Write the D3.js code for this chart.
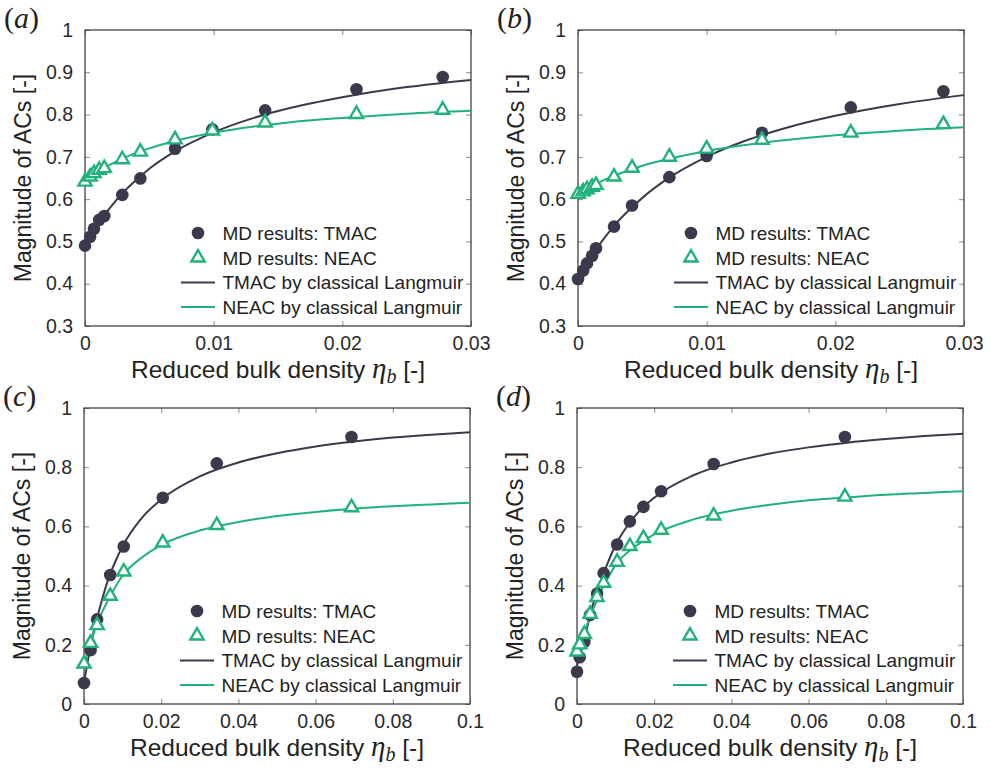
<!DOCTYPE html>
<html>
<head>
<meta charset="utf-8">
<script src="https://cdn.jsdelivr.net/npm/d3@7"></script>
<style>
  body { margin: 0; background: #fff; }
  svg { display: block; }
  .tick text { font-family: "Liberation Sans", Arial, sans-serif; font-size: 19.5px; fill: #2a2a2a; }
</style>
</head>
<body>
<div id="chart"></div>
<script>
// MD results and classical Langmuir fits, one set per panel

// (a)
var xA    = [0, 0.0004, 0.0007, 0.0011, 0.0015, 0.0029, 0.0043, 0.007, 0.0099, 0.014, 0.0211, 0.0278];
var tmacA = [0.49, 0.511, 0.530, 0.551, 0.560, 0.610, 0.649, 0.719, 0.765, 0.810, 0.860, 0.889];
var neacA = [0.641, 0.653, 0.661, 0.669, 0.673, 0.694, 0.712, 0.741, 0.762, 0.781, 0.801, 0.811];
var fitXA    = [0, 0.001, 0.002, 0.003, 0.004, 0.005, 0.007, 0.01, 0.013, 0.016, 0.02, 0.025, 0.03];
var fitTmacA = [0.49, 0.541, 0.582, 0.617, 0.646, 0.672, 0.713, 0.758, 0.791, 0.816, 0.841, 0.865, 0.882];
var fitNeacA = [0.642, 0.664, 0.682, 0.697, 0.710, 0.720, 0.738, 0.757, 0.771, 0.782, 0.792, 0.802, 0.809];

// (b)
var xB    = [0, 0.0004, 0.0007, 0.0011, 0.0014, 0.0028, 0.0042, 0.0071, 0.01, 0.0143, 0.0212, 0.0284];
var tmacB = [0.411, 0.431, 0.448, 0.466, 0.484, 0.535, 0.585, 0.652, 0.702, 0.757, 0.817, 0.855];
var neacB = [0.612, 0.618, 0.623, 0.629, 0.633, 0.653, 0.674, 0.700, 0.719, 0.740, 0.757, 0.777];
var fitXB    = fitXA;
var fitTmacB = [0.41, 0.463, 0.506, 0.544, 0.575, 0.603, 0.649, 0.70, 0.738, 0.767, 0.797, 0.825, 0.846];
var fitNeacB = [0.612, 0.630, 0.645, 0.658, 0.669, 0.679, 0.695, 0.714, 0.728, 0.739, 0.751, 0.762, 0.770];

// (c)
var xC    = [0, 0.0017, 0.0034, 0.0068, 0.0103, 0.0204, 0.0344, 0.0693];
var tmacC = [0.071, 0.182, 0.286, 0.436, 0.532, 0.697, 0.813, 0.902];
var neacC = [0.136, 0.206, 0.266, 0.365, 0.447, 0.545, 0.604, 0.664];
var fitXC    = [0, 0.002, 0.004, 0.006, 0.008, 0.01, 0.015, 0.02, 0.03, 0.04, 0.05, 0.06, 0.07, 0.08, 0.09, 0.1];
var fitTmacC = [0.07, 0.215, 0.32, 0.41, 0.478, 0.533, 0.629, 0.691, 0.769, 0.816, 0.847, 0.870, 0.887, 0.900, 0.910, 0.918];
var fitNeacC = [0.135, 0.22, 0.29, 0.345, 0.393, 0.434, 0.495, 0.537, 0.586, 0.615, 0.635, 0.649, 0.660, 0.668, 0.674, 0.680];

// (d)
var xD    = [0, 0.0007, 0.0019, 0.0034, 0.0052, 0.0069, 0.0104, 0.0137, 0.0172, 0.0218, 0.0354, 0.0694];
var tmacD = [0.109, 0.158, 0.210, 0.301, 0.373, 0.442, 0.539, 0.617, 0.666, 0.719, 0.811, 0.902];
var neacD = [0.177, 0.201, 0.236, 0.304, 0.361, 0.409, 0.480, 0.533, 0.560, 0.588, 0.636, 0.700];
var fitXD    = fitXC;
var fitTmacD = [0.13, 0.225, 0.33, 0.41, 0.478, 0.537, 0.635, 0.697, 0.772, 0.816, 0.846, 0.867, 0.883, 0.895, 0.905, 0.913];
var fitNeacD = [0.17, 0.245, 0.315, 0.375, 0.425, 0.47, 0.531, 0.573, 0.623, 0.653, 0.673, 0.688, 0.698, 0.707, 0.713, 0.719];

// axis ticks
var xTicksTop = [0, 0.01, 0.02, 0.03];
var yTicksTop = [0.3, 0.4, 0.5, 0.6, 0.7, 0.8, 0.9, 1];
var xTicksBottom = [0, 0.02, 0.04, 0.06, 0.08, 0.1];
var yTicksBottom = [0, 0.2, 0.4, 0.6, 0.8, 1];

var legendLabels = ["MD results: TMAC", "MD results: NEAC", "TMAC by classical Langmuir", "NEAC by classical Langmuir"];

var DARK = "#3b3a4d", GREEN = "#20b27a";
var SANS = "'Liberation Sans', Arial, sans-serif";
var SERIF = "'Liberation Serif', 'Times New Roman', serif";

var panels = [
  {tag: "a", left: 85,  top: 30,  xMax: 0.03, yMin: 0.3, xTicks: xTicksTop, yTicks: yTicksTop,
   x: xA, tmac: tmacA, neac: neacA, fitX: fitXA, fitT: fitTmacA, fitN: fitNeacA},
  {tag: "b", left: 578, top: 30,  xMax: 0.03, yMin: 0.3, xTicks: xTicksTop, yTicks: yTicksTop,
   x: xB, tmac: tmacB, neac: neacB, fitX: fitXB, fitT: fitTmacB, fitN: fitNeacB},
  {tag: "c", left: 84,  top: 408, xMax: 0.1, yMin: 0, xTicks: xTicksBottom, yTicks: yTicksBottom,
   x: xC, tmac: tmacC, neac: neacC, fitX: fitXC, fitT: fitTmacC, fitN: fitNeacC},
  {tag: "d", left: 577, top: 408, xMax: 0.1, yMin: 0, xTicks: xTicksBottom, yTicks: yTicksBottom,
   x: xD, tmac: tmacD, neac: neacD, fitX: fitXD, fitT: fitTmacD, fitN: fitNeacD}
];

var pw = 386, ph = 296;

var svg = d3.select("#chart").append("svg")
    .attr("width", 991)
    .attr("height", 769);

var fmt = d3.format("~g");
var tri = d3.symbol().type(d3.symbolTriangle).size(76);

panels.forEach(drawPanel);

function drawPanel(p) {
  var g = svg.append("g").attr("transform", "translate(" + p.left + "," + p.top + ")");

  var x = d3.scaleLinear().domain([0, p.xMax]).range([0, pw]);
  var y = d3.scaleLinear().domain([p.yMin, 1]).range([ph, 0]);

  // inward ticks on all four sides
  var ax = g.append("g").attr("transform", "translate(0," + ph + ")")
      .call(d3.axisBottom(x).tickValues(p.xTicks).tickSize(-5).tickPadding(10).tickFormat(fmt));
  var ay = g.append("g")
      .call(d3.axisLeft(y).tickValues(p.yTicks).tickSize(-5).tickPadding(12).tickFormat(fmt));
  var at = g.append("g")
      .call(d3.axisTop(x).tickValues(p.xTicks).tickSize(-5).tickFormat(""));
  var ar = g.append("g").attr("transform", "translate(" + pw + ",0)")
      .call(d3.axisRight(y).tickValues(p.yTicks).tickSize(-5).tickFormat(""));
  [ax, ay, at, ar].forEach(function(a) {
    a.select(".domain").remove();
    a.selectAll(".tick line").attr("stroke", "#8a8a8a").attr("stroke-width", 1);
  });

  g.append("rect")
      .attr("width", pw).attr("height", ph)
      .attr("fill", "none").attr("stroke", "#333").attr("stroke-width", 1.2);

  // fitted curves
  var line = d3.line()
      .x(function(d) { return x(d[0]); })
      .y(function(d) { return y(d[1]); })
      .curve(d3.curveMonotoneX);

  g.append("path").datum(d3.zip(p.fitX, p.fitT))
      .attr("fill", "none").attr("stroke", DARK).attr("stroke-width", 2).attr("d", line);
  g.append("path").datum(d3.zip(p.fitX, p.fitN))
      .attr("fill", "none").attr("stroke", GREEN).attr("stroke-width", 2).attr("d", line);

  // MD points
  g.selectAll("circle.tmac").data(d3.zip(p.x, p.tmac)).enter()
    .append("circle").attr("class", "tmac")
      .attr("cx", function(d) { return x(d[0]); })
      .attr("cy", function(d) { return y(d[1]); })
      .attr("r", 6.3)
      .attr("fill", DARK);

  g.selectAll("path.neac").data(d3.zip(p.x, p.neac)).enter()
    .append("path").attr("class", "neac")
      .attr("transform", function(d) { return "translate(" + x(d[0]) + "," + y(d[1]) + ")"; })
      .attr("d", tri)
      .attr("fill", "#fff").attr("stroke", GREEN).attr("stroke-width", 2.4);

  // legend
  var lg = g.append("g").attr("transform", "translate(0," + (ph - 93) + ")");
  legendLabels.forEach(function(label, i) {
    var row = lg.append("g").attr("transform", "translate(0," + (i * 24.7) + ")");
    if (i === 0) row.append("circle").attr("cx", 113).attr("r", 6.3).attr("fill", DARK);
    if (i === 1) row.append("path").attr("transform", "translate(113,0)").attr("d", tri)
        .attr("fill", "#fff").attr("stroke", GREEN).attr("stroke-width", 2.4);
    if (i >= 2) row.append("line").attr("x1", 96).attr("x2", 130)
        .attr("stroke", i === 2 ? DARK : GREEN).attr("stroke-width", 2);
    row.append("text")
        .attr("x", 137.5).attr("dy", "0.36em")
        .attr("font-family", SANS).attr("font-size", 19).attr("fill", "#222")
        .text(label);
  });

  // axis titles
  g.append("text")
      .attr("transform", "translate(-62," + (ph / 2) + ") rotate(-90)")
      .attr("text-anchor", "middle").attr("dy", "0.36em")
      .attr("font-family", SANS).attr("font-size", 23).attr("fill", "#222")
      .text("Magnitude of ACs [-]");

  var xt = g.append("text")
      .attr("x", pw / 2).attr("y", ph + 52)
      .attr("text-anchor", "middle")
      .attr("font-family", SANS).attr("font-size", 24.5).attr("fill", "#222");
  xt.append("tspan").text("Reduced bulk density ");
  xt.append("tspan").attr("font-family", SERIF).attr("font-style", "italic").attr("font-size", 29).text("\u03b7");
  xt.append("tspan").attr("font-family", SERIF).attr("font-style", "italic").attr("font-size", 20)
      .attr("dy", 5).text("b");
  xt.append("tspan").attr("dy", -5).text(" [-]");

  // panel tag
  var tg = svg.append("text")
      .attr("x", p.left - 81).attr("y", p.top - 2)
      .attr("font-family", SERIF).attr("font-size", 30).attr("fill", "#222");
  tg.append("tspan").text("(");
  tg.append("tspan").attr("font-style", "italic").text(p.tag);
  tg.append("tspan").text(")");
}
</script>
</body>
</html>
